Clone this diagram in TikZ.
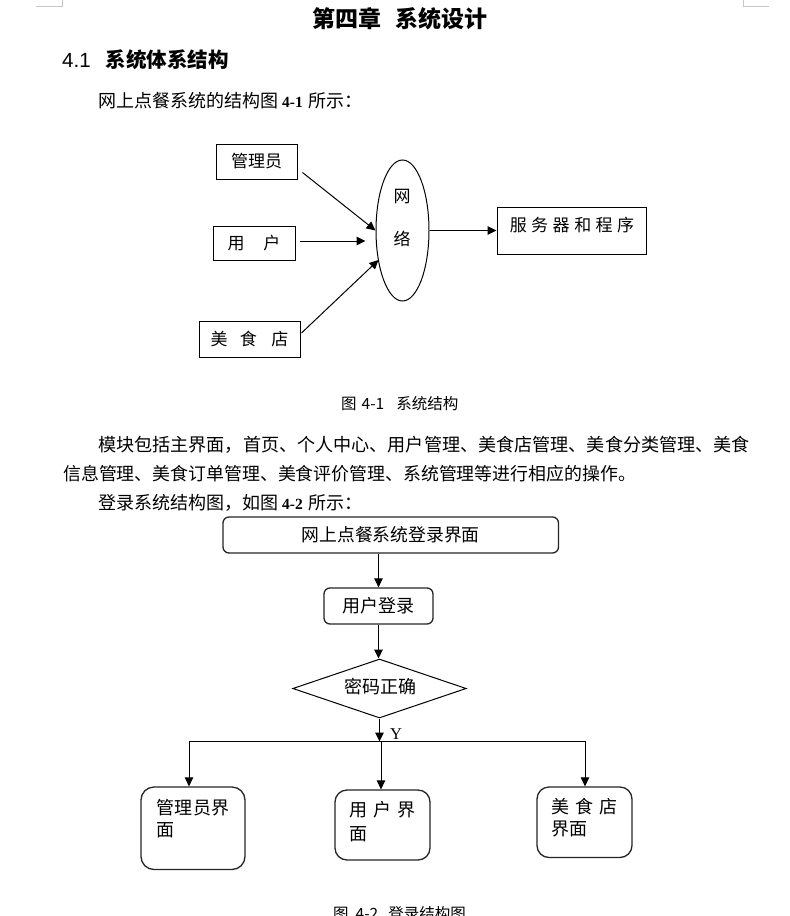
\documentclass[tikz,border=0pt]{standalone}
\usepackage{fontspec}
\setmainfont{Liberation Serif}
\newfontfamily\cjk{Noto Sans CJK SC}
\newfontfamily\arialf{Liberation Sans}
\usetikzlibrary{shapes.geometric,arrows.meta}
\newcommand{\fs}[1]{\fontsize{#1}{#1}\selectfont}
\tikzset{
  t/.style={inner sep=0pt, text height=1.2em, text depth=0.04em},
  box1/.style={draw=black, line width=1pt, inner sep=0pt},
  rbox/.style={draw=black!85, line width=1.3pt, inner sep=0pt},
  arr/.style={-{Triangle[length=9pt,width=8.5pt]}, line width=1pt},
  ln/.style={line width=1pt},
  cornermark/.style={draw=gray!45, line width=1pt}
}
\begin{document}
\begin{tikzpicture}[x=1pt,y=-1pt]
\useasboundingbox (0,0) rectangle (790,916);
\clip (0,0) rectangle (790,916);
\fill[white] (0,0) rectangle (790,916);

% page corner marks
\draw[cornermark] (36,6) -- (62.5,6) -- (62.5,0);
\draw[cornermark] (743,0) -- (743,6) -- (769,6);

% headings and body text
\node[t, anchor=west, font=\cjk\bfseries\fs{23}] (title) at (312.5,22) {第四章\hspace{14pt}系统设计};
\node[t, anchor=west, font=\fs{20.5}] (h41) at (62,62) {{\arialf 4.1}\hspace{15pt}{\cjk\bfseries 系统体系结构}};
\node[t, anchor=west, font=\cjk\fs{18}] (p1) at (98,101.5) {网上点餐系统的结构图\hspace{4pt}{\rmfamily\bfseries\fs{15.5}4-1}\hspace{6pt}所示：};

% figure 4-1
\node[box1, minimum width=81pt, minimum height=35pt, font=\cjk\fs{17}] (adm) at (256.5,161.5) {管理员};
\node[box1, minimum width=82pt, minimum height=34pt, font=\cjk\fs{17}] (usr) at (254,243) {用\hspace{19pt}户};
\node[box1, minimum width=101pt, minimum height=36pt, font=\cjk\fs{17}] (shop) at (249.5,339) {美\hspace{12.5pt}食\hspace{14.5pt}店};
\node[draw, ellipse, line width=1pt, minimum width=53pt, minimum height=141pt, inner sep=0pt] (net) at (402.5,230.5) {};
\node[t, font=\cjk\fs{17}] (net1) at (402,197) {网};
\node[t, font=\cjk\fs{17}] (net2) at (402,240) {络};
\node[box1, minimum width=149pt, minimum height=47pt] (srv) at (571.5,230.5) {};
\node[t, font=\cjk\fs{17}] (srvt) at (572,226) {服\hspace{4.5pt}务\hspace{4.5pt}器\hspace{4.5pt}和\hspace{4.5pt}程\hspace{4.5pt}序};

\draw[arr] ([shift={(5,11)}]adm.east) -- (net.west);
\draw[arr] ([shift={(4,-2)}]usr.east) -- ([shift={(-10,10.5)}]net.west);
\draw[arr] ([shift={(1,-6)}]shop.east) -- ([shift={(3,29.5)}]net.west);
\draw[arr] (net.east) -- (srv.west);

\node[t, anchor=west, font=\cjk\fs{15.5}] (cap1) at (341,404) {图\hspace{5pt}4-1\hspace{12pt}系统结构};

% paragraph
\node[t, anchor=west, font=\cjk\fs{18.1}] (p2) at (98,445.5) {模块包括主界面，首页、个人中心、用户管理、美食店管理、美食分类管理、美食};
\node[t, anchor=west, font=\cjk\fs{17.9}] (p3) at (63,475) {信息管理、美食订单管理、美食评价管理、系统管理等进行相应的操作。};
\node[t, anchor=west, font=\cjk\fs{18}] (p4) at (98,503.5) {登录系统结构图，如图\hspace{4pt}{\rmfamily\bfseries\fs{15.5}4-2}\hspace{6pt}所示：};

% figure 4-2
\node[rbox, rounded corners=6pt, minimum width=335.5pt, minimum height=36pt, font=\cjk\fs{17.8}] (top) at (390.75,535) {网上点餐系统登录界面};
\node[rbox, rounded corners=6pt, minimum width=109pt, minimum height=36pt, font=\cjk\fs{18}] (login) at (378.5,606) {用户登录};
\node[draw, diamond, line width=1pt, minimum width=173.5pt, minimum height=59pt, inner sep=0pt] (chk) at (379.5,688.5) {};
\node[t, font=\cjk\fs{18}] (chkt) at (380,688) {密码正确};

\draw[arr] (top.south -| login.north) -- (login.north);
\draw[arr] (login.south) -- (login.south |- chk.north);

\coordinate (busL) at (189,741);
\coordinate (busR) at (585,741);
\coordinate (busC) at (381,742);
\coordinate (busY) at (379.5,741.5);
\draw[arr] (chk.south) -- (busY);
\draw[ln] (busL) -- (busR);
\node[t, font=\rmfamily\fs{16.5}] (ylab) at (396,734) {Y};

\node[rbox, rounded corners=13pt, minimum width=104pt, minimum height=82.5pt] (a2) at (193,828.25) {};
\node[rbox, rounded corners=12pt, minimum width=95pt, minimum height=70pt] (u2) at (382.5,825) {};
\node[rbox, rounded corners=12pt, minimum width=95pt, minimum height=70.5pt] (s2) at (584.5,822.25) {};
\draw[arr] (busL) -- (busL |- a2.north);
\draw[arr] (busC) -- (busC |- u2.north);
\draw[arr] (busR) -- (busR |- s2.north);

\node[t, anchor=west, font=\cjk\fs{18}] (a2a) at (156,809) {管\hspace{0.5pt}理\hspace{0.5pt}员\hspace{0.5pt}界};
\node[t, anchor=west, font=\cjk\fs{18}] (a2b) at (156,830.5) {面};
\node[t, anchor=west, font=\cjk\fs{18}] (u2a) at (349,810.5) {用\hspace{6pt}户\hspace{6pt}界};
\node[t, anchor=west, font=\cjk\fs{18}] (u2b) at (349,835) {面};
\node[t, anchor=west, font=\cjk\fs{18}] (s2a) at (551,808) {美\hspace{6pt}食\hspace{6pt}店};
\node[t, anchor=west, font=\cjk\fs{18}] (s2b) at (551,830) {界面};

\node[t, anchor=west, font=\cjk\fs{15.5}] (cap2) at (333,914) {图\hspace{7pt}4-2\hspace{10pt}登录结构图};
\end{tikzpicture}
\end{document}
